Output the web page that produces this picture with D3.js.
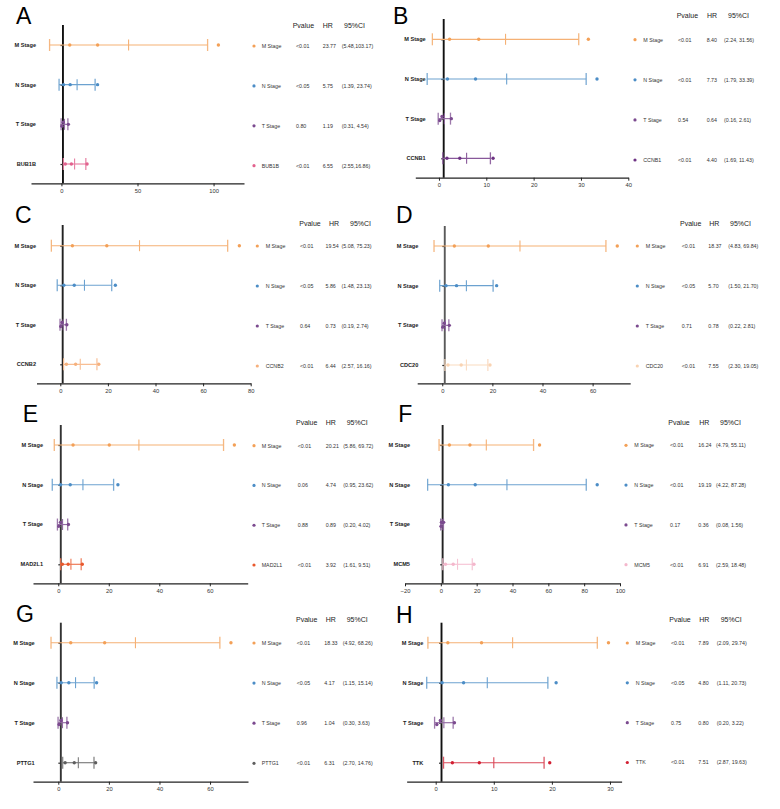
<!DOCTYPE html>
<html><head><meta charset="utf-8">
<script src="https://cdn.jsdelivr.net/npm/d3@7"></script>
<style>body{margin:0;background:#fff} svg{display:block;font-family:Arial,"Liberation Sans",sans-serif}</style>
</head><body><svg id="chart" width="780" height="809"></svg>
<script>
// ---------------- data ----------------
const panelLetters = ["A","B","C","D","E","F","G","H"];
const genes = ["BUB1B","CCNB1","CCNB2","CDC20","MAD2L1","MCM5","PTTG1","TTK"];
const stageNames = ["M Stage","N Stage","T Stage"];
const pValues = [
  ["<0.01","<0.05","0.80","<0.01"],
  ["<0.01","<0.01","0.54","<0.01"],
  ["<0.01","<0.05","0.64","<0.01"],
  ["<0.01","<0.05","0.71","<0.01"],
  ["<0.01","0.06","0.88","<0.01"],
  ["<0.01","<0.01","0.17","<0.01"],
  ["<0.01","<0.05","0.96","<0.01"],
  ["<0.01","<0.05","0.75","<0.01"]
];
const hrValues = [
  [23.77,5.75,1.19,6.55],
  [8.40,7.73,0.64,4.40],
  [19.54,5.86,0.73,6.44],
  [18.37,5.70,0.78,7.55],
  [20.21,4.74,0.89,3.92],
  [16.24,19.19,0.36,6.91],
  [18.33,4.17,1.04,6.31],
  [7.89,4.80,0.80,7.51]
];
const lowerCI = [
  [5.48,1.39,0.31,2.55],
  [2.24,1.79,0.16,1.69],
  [5.08,1.48,0.19,2.57],
  [4.83,1.50,0.22,2.30],
  [5.86,0.95,0.20,1.61],
  [4.79,4.22,0.08,2.59],
  [4.92,1.15,0.30,2.70],
  [2.09,1.11,0.20,2.87]
];
const upperCI = [
  [103.17,23.74,4.54,16.86],
  [31.56,33.39,2.61,11.43],
  [75.23,23.13,2.74,16.16],
  [69.84,21.70,2.81,19.05],
  [69.72,23.62,4.02,9.51],
  [55.11,87.28,1.56,18.48],
  [68.26,15.14,3.63,14.76],
  [29.74,20.73,3.22,19.63]
];
const ciLabels = [
  ["(5.48,103.17)","(1.39, 23.74)","(0.31, 4.54)","(2.55,16.86)"],
  ["(2.24, 31.56)","(1.79, 33.39)","(0.16, 2.61)","(1.69, 11.43)"],
  ["(5.08, 75.23)","(1.48, 23.13)","(0.19, 2.74)","(2.57, 16.16)"],
  ["(4.83, 69.84)","(1.50, 21.70)","(0.22, 2.81)","(2.30, 19.05)"],
  ["(5.86, 69.72)","(0.95, 23.62)","(0.20, 4.02)","(1.61, 9.51)"],
  ["(4.79, 55.11)","(4.22, 87.28)","(0.08, 1.56)","(2.59, 18.48)"],
  ["(4.92, 68.26)","(1.15, 15.14)","(0.30, 3.63)","(2.70, 14.76)"],
  ["(2.09, 29.74)","(1.11, 20.73)","(0.20, 3.22)","(2.87, 19.63)"]
];
const headerLabels = ["Pvalue","HR","95%CI"];
const xDomains = [[-20,120],[-5,40],[-10,80],[-10,75],[-10,75],[-20,100],[-10,75],[-5,32]];
const xTickValues = [[0,50,100],[0,10,20,30,40],[0,20,40,60,80],[0,20,40,60],[0,20,40,60],[-20,0,20,40,60,80,100],[0,20,40,60],[0,10,20,30]];
const refValue = 1;

// ---------------- styles ----------------
const stageColors = ["#F3A057","#4C8DC6","#7B4A8F"];
const geneColors = ["#E2628E","#6E3384","#F6B07C","#F9D3B2","#E9582C","#F4B7CC","#5E5E5E","#D21F32"];
const refColors = ["#111","#111","#222","#5a5a5a","#333","#222","#333","#111"];

// layout (pixel positions per panel)
const layout = [
  {lx:16, ly:24, xr:[31,244], axisY:183.3, refTop:25, rows:[45,164], labelR:36, hy:26, hx:[292.7,322.7,344], ldot:254, llab:261.7, lp:296, lhr:322.7, lci:341.7, lrows:[46,165.7]},
  {lx:393, ly:23.5, xr:[415.3,628.3], axisY:177.7, refTop:19, rows:[39.3,158.3], labelR:425.7, hy:16, hx:[676.7,707,728], ldot:635, llab:643.3, lp:678, lhr:706.7, lci:724, lrows:[39.7,160]},
  {lx:15, ly:223.3, xr:[36.5,250.7], axisY:383.3, refTop:225, rows:[245.7,364.3], labelR:36, hy:223.3, hx:[299.3,329,350], ldot:257.3, llab:265.7, lp:300, lhr:325.5, lci:341.5, lrows:[246,366]},
  {lx:396, ly:223.3, xr:[417.2,630.2], axisY:383.3, refTop:226, rows:[246,365], labelR:418.3, hy:223.3, hx:[680,709.3,730], ldot:637.3, llab:645.7, lp:681.7, lhr:708.3, lci:728.3, lrows:[246,366]},
  {lx:22.7, ly:422, xr:[33,247.7], axisY:583.3, refTop:425, rows:[445,564.3], labelR:43, hy:422.7, hx:[296,325.7,346.7], ldot:254, llab:261.7, lp:297.7, lhr:325.7, lci:343.3, lrows:[445.7,565]},
  {lx:398.3, ly:422, xr:[405,620], axisY:583.3, refTop:425, rows:[445,564.3], labelR:410, hy:422.7, hx:[668.3,699.3,720], ldot:626, llab:634.3, lp:670, lhr:698.3, lci:716, lrows:[445.3,564.7]},
  {lx:16, ly:622, xr:[33,248], axisY:781.7, refTop:622.7, rows:[642.7,762.7], labelR:34.7, hy:620, hx:[296,325.7,346.7], ldot:254, llab:261.7, lp:296.7, lhr:324.3, lci:342.7, lrows:[643,763.3]},
  {lx:396, ly:622.5, xr:[406.65,621.6], axisY:781.7, refTop:622.7, rows:[642.7,762.7], labelR:423.3, hy:620, hx:[669.3,699.3,720.7], ldot:627.3, llab:635.7, lp:671, lhr:698.3, lci:716.7, lrows:[643,762.5]}
];

const svg = d3.select("#chart");

panelLetters.forEach((letter, i) => {
  const L = layout[i];
  const g = svg.append("g");
  const rowNames = stageNames.concat([genes[i]]);
  const colors = stageColors.concat([geneColors[i]]);

  const x = d3.scaleLinear().domain(xDomains[i]).range(L.xr);
  const y = d3.scalePoint().domain(rowNames).range(L.rows);
  const yl = d3.scalePoint().domain(rowNames).range(L.lrows);

  // panel letter
  g.append("text").attr("x", L.lx).attr("y", L.ly).attr("font-size", 23).attr("fill", "#000").text(letter);

  // x axis
  const xa = g.append("g").attr("transform", `translate(0,${L.axisY})`)
    .call(d3.axisBottom(x).tickValues(xTickValues[i]).tickSize(3).tickSizeOuter(0).tickPadding(2.5));
  xa.select(".domain").attr("stroke", "#222").attr("stroke-width", 1.3);
  xa.selectAll(".tick line").attr("stroke", "#222").attr("stroke-width", 1);
  xa.selectAll(".tick text").attr("font-size", 5.8).attr("fill", "#333").attr("font-family", "Arial, Liberation Sans, sans-serif");

  // reference line at HR = 1
  g.append("line").attr("x1", x(refValue)).attr("x2", x(refValue))
    .attr("y1", L.refTop).attr("y2", L.axisY)
    .attr("stroke", refColors[i]).attr("stroke-width", 1.9);

  // category axis ticks and labels
  const ya = g.append("g").attr("transform", `translate(${x(refValue)},0)`)
    .call(d3.axisLeft(y).tickSize(2.5).tickFormat(""));
  ya.select(".domain").remove();
  ya.selectAll(".tick line").attr("stroke", "#333").attr("stroke-width", 1.2);

  g.selectAll(".rowlab").data(rowNames).join("text")
    .attr("x", L.labelR).attr("y", d => y(d)).attr("dy", "0.35em")
    .attr("text-anchor", "end").attr("font-size", 5.6).attr("font-weight", "bold")
    .attr("fill", "#222").text(d => d);

  // rows: mean ± SD error bar of (lower, HR, upper) with the three values as dots
  rowNames.forEach((name, r) => {
    const vals = [lowerCI[i][r], hrValues[i][r], upperCI[i][r]];
    const m = d3.mean(vals), sd = d3.deviation(vals);
    const c = colors[r];
    const lineC = d3.interpolateRgb(c, "#fff")(0.18);
    const cy = y(name);
    g.append("line").attr("x1", x(m - sd)).attr("x2", x(m + sd)).attr("y1", cy).attr("y2", cy)
      .attr("stroke", lineC).attr("stroke-width", 1.15);
    [m - sd, m + sd].forEach(v => {
      g.append("line").attr("x1", x(v)).attr("x2", x(v)).attr("y1", cy - 6).attr("y2", cy + 6)
        .attr("stroke", lineC).attr("stroke-width", 1.3).attr("opacity", 0.9);
    });
    g.append("line").attr("x1", x(m)).attr("x2", x(m)).attr("y1", cy - 5.5).attr("y2", cy + 5.5)
      .attr("stroke", lineC).attr("stroke-width", 1.1);
    // spread overlapping points slightly (scatter-dot style)
    const px = vals.map(v => x(v));
    const off = [0, 0, 0];
    for (let k = 1; k < 3; k++) {
      if (Math.abs(px[k] - px[k - 1]) < 3.8) { off[k - 1] = off[k - 1] || 1.8; off[k] = -2.2; }
    }
    vals.forEach((v, k) => {
      g.append("circle").attr("cx", x(v)).attr("cy", cy + off[k]).attr("r", 1.7).attr("fill", c);
    });
  });

  // table header
  headerLabels.forEach((h, k) => {
    g.append("text").attr("x", L.hx[k]).attr("y", L.hy).attr("dy", "0.35em")
      .attr("font-size", 7).attr("fill", "#222").text(h);
  });

  // legend/table rows
  rowNames.forEach((name, r) => {
    const ly = yl(name);
    g.append("circle").attr("cx", L.ldot).attr("cy", ly).attr("r", 1.6).attr("fill", colors[r]);
    const cols = [[L.llab, name], [L.lp, pValues[i][r]], [L.lhr, hrValues[i][r].toFixed(2)], [L.lci, ciLabels[i][r]]];
    cols.forEach(([tx, t]) => {
      g.append("text").attr("x", tx).attr("y", ly).attr("dy", "0.35em")
        .attr("font-size", 5.3).attr("fill", "#333").text(t);
    });
  });
});
</script></body></html>
